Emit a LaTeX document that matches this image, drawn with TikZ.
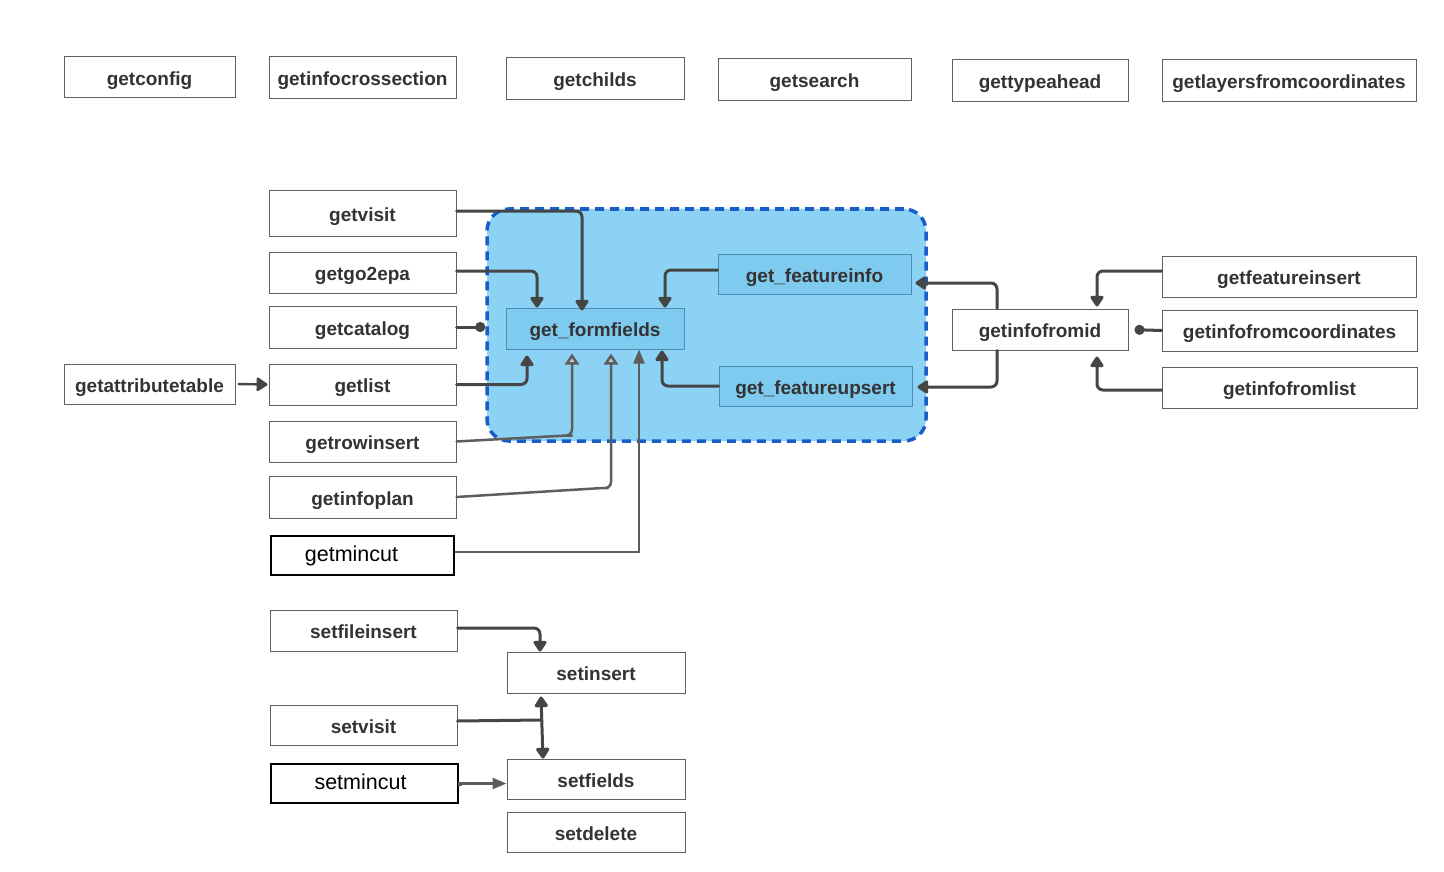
\documentclass[tikz,border=0pt]{standalone}
\usepackage{fontspec}
\setmainfont{Liberation Sans}
\usetikzlibrary{arrows.meta,calc}

\definecolor{boxline}{HTML}{606060}
\definecolor{boxtext}{HTML}{333333}
\definecolor{zonefill}{HTML}{8CD2F4}
\definecolor{zoneline}{HTML}{1A5DC8}
\definecolor{innerfill}{HTML}{7FCAEF}
\definecolor{innerline}{HTML}{4C8CB8}
\definecolor{marker}{HTML}{454545}
\definecolor{faded}{HTML}{5E5E5E}
\definecolor{fadedhead}{HTML}{C9C9C9}
\definecolor{plainline}{HTML}{5C5C5C}

\tikzset{
  x=1pt, y=-1pt,
  box/.style={draw=boxline, line width=1pt, fill=white, text=boxtext,
    font=\fontsize{19}{23}\selectfont\bfseries, inner sep=0pt, anchor=center,
    text height=16pt, text depth=0pt},
  plainbox/.style={draw=black, line width=2pt, fill=white, text=black,
    font=\fontsize{21.5}{25}\selectfont, inner sep=0pt, anchor=center,
    text height=15.5pt, text depth=3pt},
  innerbox/.style={box, fill=innerfill, draw=innerline, line width=1pt},
  zone/.style={fill=zonefill, draw=zoneline, line width=3.5pt,
    dash pattern=on 9pt off 6pt, rounded corners=22pt, inner sep=0pt},
  conn/.style={draw=marker, line width=3pt, rounded corners=6pt,
    line cap=round, line join=round,
    -{Triangle[length=12pt,width=15pt,round]}},
  dotconn/.style={draw=marker, line width=3pt, line cap=round,
    -{Circle[length=10pt]}},
  fadedconn/.style={draw=faded, line width=2.5pt, rounded corners=6pt,
    line cap=round, -{Triangle[open,length=11pt,width=14pt,fill=fadedhead]}},
  plainconn/.style={draw=plainline, line width=2.2pt,
    -{Triangle[length=14pt,width=11pt]}},
  bothconn/.style={draw=marker, line width=3pt, line cap=round,
    {Triangle[length=12pt,width=15pt,round]}-{Triangle[length=12pt,width=15pt,round]}},
}

\begin{document}
\begin{tikzpicture}
  % canvas
  \fill[white] (0,0) rectangle (1444,872);
  \useasboundingbox (0,0) rectangle (1444,872);

  % shaded group around the form-field functions
  \node[zone, minimum width=439pt, minimum height=232pt] (zone) at (706.5,325) {};

  % top row
  \node[box, minimum width=171pt, minimum height=41pt] (getconfig) at (149.5,77.5) {getconfig};
  \node[box, minimum width=187pt, minimum height=42pt] (getinfocrossection) at (362.5,78) {getinfocrossection};
  \node[box, minimum width=178pt, minimum height=42pt] (getchilds) at (595,79) {getchilds};
  \node[box, minimum width=193pt, minimum height=42pt] (getsearch) at (814.5,80) {getsearch};
  \node[box, minimum width=176pt, minimum height=42pt] (gettypeahead) at (1040,81) {gettypeahead};
  \node[box, minimum width=254pt, minimum height=42pt] (getlayersfromcoordinates) at (1289,81) {getlayersfromcoordinates};

  % left column of getters
  \node[box, minimum width=187pt, minimum height=45pt] (getvisit) at (362.5,213.5) {getvisit};
  \node[box, minimum width=187pt, minimum height=41pt] (getgo2epa) at (362.5,272.5) {getgo2epa};
  \node[box, minimum width=187pt, minimum height=42pt] (getcatalog) at (362.5,327) {getcatalog};
  \node[box, minimum width=187pt, minimum height=41pt] (getlist) at (362.5,384.5) {getlist};
  \node[box, minimum width=187pt, minimum height=41pt] (getrowinsert) at (362.5,441.5) {getrowinsert};
  \node[box, minimum width=187pt, minimum height=42pt] (getinfoplan) at (362.5,497) {getinfoplan};
  \node[plainbox, minimum width=183pt, minimum height=39pt] (getmincut) at (362.5,555.5) {\hspace*{-22pt}getmincut};
  \node[box, minimum width=171pt, minimum height=40pt] (getattributetable) at (149.5,384) {getattributetable};

  % setters
  \node[box, minimum width=187pt, minimum height=41pt] (setfileinsert) at (363.5,630.5) {setfileinsert};
  \node[box, minimum width=187pt, minimum height=40pt] (setvisit) at (363.5,725) {setvisit};
  \node[plainbox, minimum width=187pt, minimum height=39pt] (setmincut) at (364.5,783.5) {\hspace*{-8pt}setmincut};
  \node[box, minimum width=178pt, minimum height=41pt] (setinsert) at (596,672.5) {setinsert};
  \node[box, minimum width=178pt, minimum height=40pt] (setfields) at (596,779) {setfields};
  \node[box, minimum width=178pt, minimum height=40pt] (setdelete) at (596,832) {setdelete};

  % functions inside the group
  \node[innerbox, minimum width=178pt, minimum height=41pt] (get_formfields) at (595,328.5) {get\_formfields};
  \node[innerbox, minimum width=193pt, minimum height=40pt] (get_featureinfo) at (814.5,274) {get\_featureinfo};
  \node[innerbox, minimum width=193pt, minimum height=40pt] (get_featureupsert) at (815.5,386) {get\_featureupsert};

  % right side
  \node[box, minimum width=176pt, minimum height=41pt] (getinfofromid) at (1040,329.5) {getinfofromid};
  \node[box, minimum width=254pt, minimum height=41pt] (getfeatureinsert) at (1289,276.5) {getfeatureinsert};
  \node[box, minimum width=255pt, minimum height=41pt] (getinfofromcoordinates) at (1289.5,330.5) {getinfofromcoordinates};
  \node[box, minimum width=255pt, minimum height=41pt] (getinfofromlist) at (1289.5,387.5) {getinfofromlist};

  % calls into get_formfields from above
  \draw[conn] ([yshift=2.5pt]getvisit.east) -| ([xshift=-13pt,yshift=-3pt]get_formfields.north);
  \draw[conn] ([yshift=1.5pt]getgo2epa.east) -| ([xshift=-58pt]get_formfields.north);
  \draw[conn] ([yshift=4pt]get_featureinfo.west) -| ([xshift=70pt]get_formfields.north);
  \draw[dotconn] (getcatalog.east) -- (zone.west |- getcatalog.east);

  % calls into get_formfields from below
  \draw[conn, shorten >=6pt] (getlist.east) -| ([xshift=-68pt]get_formfields.south);
  \draw[fadedconn, shorten >=4pt] (getrowinsert.east) -- ++(110,-6) -| ([xshift=-23pt]get_formfields.south);
  \draw[fadedconn, shorten >=4pt] (getinfoplan.east) -- ++(146,-9) -| ([xshift=16pt]get_formfields.south);
  \draw[plainconn] ([yshift=3.5pt]getmincut.east) -| ([xshift=44pt]get_formfields.south);
  \draw[conn, shorten >=1pt] (get_featureupsert.west) -| ([xshift=67pt]get_formfields.south);

  % getinfofromid dispatches to the feature functions
  \draw[conn, shorten >=4pt] ([xshift=-43pt]getinfofromid.north) |- ([yshift=-9pt]get_featureinfo.east);
  \draw[conn, shorten >=5pt] ([xshift=-43pt]getinfofromid.south) |- ([yshift=-1pt]get_featureupsert.east);

  % callers of getinfofromid
  \draw[conn, shorten >=2pt] ([yshift=5.5pt]getfeatureinsert.west) -| ([xshift=57pt]getinfofromid.north);
  \draw[dotconn, shorten >=6pt] (getinfofromcoordinates.west) -- (getinfofromid.east);
  \draw[conn, shorten >=6pt] ([yshift=-2.5pt]getinfofromlist.west) -| ([xshift=57pt]getinfofromid.south);

  % getattributetable -> getlist
  \draw[conn, shorten <=3pt, shorten >=1pt, line width=2.4pt] (getattributetable.east) -- (getlist.west);

  % setters
  \draw[conn] ([yshift=2.5pt]setfileinsert.east) -| ([xshift=-56pt]setinsert.north);
  \draw[bothconn] ([xshift=-55pt,yshift=-3pt]setinsert.south) -- ([xshift=-53pt]setfields.north);
  \draw[draw=marker, line width=3pt, line cap=round] ([yshift=4pt]setvisit.east) -- ++(84,-1);
  \draw[plainconn, {Square[length=4pt,width=4pt,fill=black]}-{Triangle[length=14pt,width=11pt]}] ([xshift=-1pt]setmincut.east) -- (setmincut.east -| setfields.west);
\end{tikzpicture}
\end{document}
